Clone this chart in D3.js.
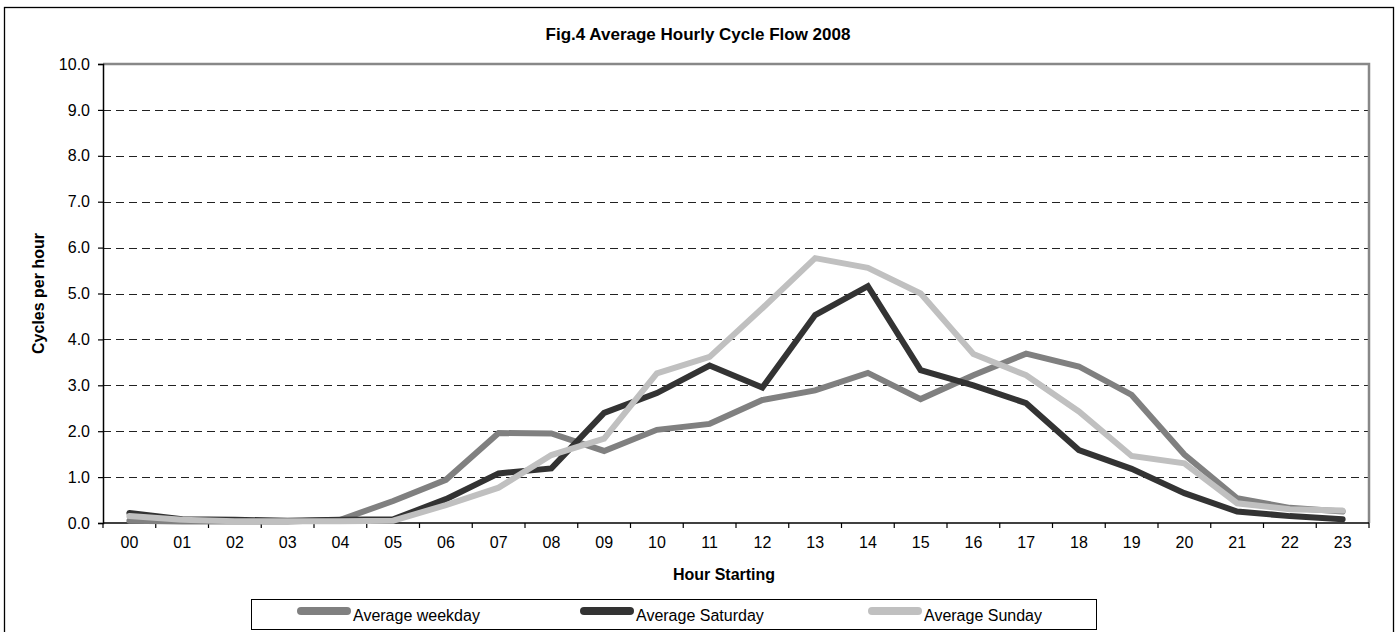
<!DOCTYPE html>
<html>
<head>
<meta charset="utf-8">
<script src="https://cdn.jsdelivr.net/npm/d3@7"></script>
<style>
  html, body { margin: 0; padding: 0; background: #fff; }
  svg { display: block; font-family: Arial, "Liberation Sans", sans-serif; }
</style>
</head>
<body>
<svg id="chart" width="1399" height="632"></svg>
<script>
// Hour-of-day categories
const hours = ["00","01","02","03","04","05","06","07","08","09","10","11",
               "12","13","14","15","16","17","18","19","20","21","22","23"];

// Average cycles per hour for each day type
const weekday  = [0.05,0.03,0.03,0.03,0.07,0.48,0.94,1.96,1.95,1.57,2.03,2.16,
                  2.68,2.89,3.27,2.70,3.22,3.69,3.41,2.79,1.49,0.54,0.33,0.25];
const saturday = [0.22,0.08,0.07,0.05,0.07,0.08,0.52,1.08,1.19,2.40,2.83,3.43,
                  2.95,4.53,5.16,3.33,3.00,2.61,1.59,1.18,0.65,0.25,0.15,0.08];
const sunday   = [0.15,0.07,0.04,0.04,0.04,0.05,0.39,0.77,1.48,1.84,3.26,3.62,
                  4.68,5.77,5.56,5.00,3.68,3.22,2.43,1.46,1.30,0.43,0.30,0.27];

const seriesNames = ["Average weekday","Average Saturday","Average Sunday"];
const yTicks = [0,1,2,3,4,5,6,7,8,9,10];

const series = [
  { name: seriesNames[0], values: weekday,  color: "#808080" },
  { name: seriesNames[1], values: saturday, color: "#333333" },
  { name: seriesNames[2], values: sunday,   color: "#c0c0c0" }
];

const svg = d3.select("#chart");
const plot = { left: 103, right: 1369, top: 64, bottom: 523 };

// Outer chart border
svg.append("rect")
  .attr("x", 4.5).attr("y", 7.5)
  .attr("width", 1389).attr("height", 640)
  .attr("fill", "#fff").attr("stroke", "#000").attr("stroke-width", 1.3);

const x = d3.scaleBand().domain(hours).range([plot.left, plot.right]).padding(0);
const y = d3.scaleLinear().domain([0, 10]).range([plot.bottom, plot.top]);

// Title
svg.append("text")
  .attr("x", 698).attr("y", 40)
  .attr("text-anchor", "middle")
  .attr("font-weight", "bold").attr("font-size", 17)
  .text("Fig.4 Average Hourly Cycle Flow 2008");

// Dashed horizontal gridlines
svg.append("g")
  .selectAll("line")
  .data(yTicks.filter(v => v > 0 && v < 10))
  .join("line")
  .attr("x1", plot.left).attr("x2", plot.right)
  .attr("y1", d => Math.round(y(d)) + 0.5).attr("y2", d => Math.round(y(d)) + 0.5)
  .attr("stroke", "#222").attr("stroke-width", 1)
  .attr("stroke-dasharray", "8,5");

// Plot area frame: grey top and right edges
svg.append("path")
  .attr("d", `M${plot.left},${plot.top} H${plot.right} V${plot.bottom}`)
  .attr("fill", "none").attr("stroke", "#888").attr("stroke-width", 2.5);

// Y axis
const yAxis = svg.append("g")
  .attr("transform", `translate(${plot.left},0)`)
  .call(d3.axisLeft(y).tickValues(yTicks).tickFormat(d3.format(".1f")).tickSize(5).tickPadding(8));
yAxis.select(".domain").attr("stroke", "#000").attr("stroke-width", 1.5);
yAxis.selectAll(".tick line").attr("stroke", "#000").attr("stroke-width", 1.2);
yAxis.selectAll(".tick text")
  .attr("font-size", 16).attr("fill", "#000")
  .attr("font-family", "Arial, 'Liberation Sans', sans-serif");

// X axis: labels centred in each band, ticks on band boundaries
const xAxis = svg.append("g")
  .attr("transform", `translate(0,${plot.bottom})`)
  .call(d3.axisBottom(x).tickSize(0).tickPadding(14));
xAxis.select(".domain").remove();
xAxis.selectAll(".tick text")
  .attr("font-size", 16).attr("fill", "#000")
  .attr("font-family", "Arial, 'Liberation Sans', sans-serif");

svg.append("line")
  .attr("x1", plot.left).attr("x2", plot.right)
  .attr("y1", plot.bottom).attr("y2", plot.bottom)
  .attr("stroke", "#000").attr("stroke-width", 1.5);

const boundaries = hours.map(h => x(h)).concat([x(hours[hours.length - 1]) + x.bandwidth()]);
svg.append("g")
  .selectAll("line")
  .data(boundaries)
  .join("line")
  .attr("x1", d => d).attr("x2", d => d)
  .attr("y1", plot.bottom).attr("y2", plot.bottom + 5)
  .attr("stroke", "#000").attr("stroke-width", 1.2);

// Axis titles
svg.append("text")
  .attr("x", 724).attr("y", 580)
  .attr("text-anchor", "middle")
  .attr("font-weight", "bold").attr("font-size", 16)
  .text("Hour Starting");

svg.append("text")
  .attr("transform", `translate(44,${(plot.top + plot.bottom) / 2}) rotate(-90)`)
  .attr("text-anchor", "middle")
  .attr("font-weight", "bold").attr("font-size", 16)
  .text("Cycles per hour");

// Series lines
const line = d3.line()
  .x((d, i) => x(hours[i]) + x.bandwidth() / 2)
  .y(d => y(d));

svg.append("g")
  .selectAll("path")
  .data(series)
  .join("path")
  .attr("d", d => line(d.values))
  .attr("fill", "none")
  .attr("stroke", d => d.color)
  .attr("stroke-width", 6)
  .attr("stroke-linejoin", "miter")
  .attr("stroke-linecap", "round");

// Legend
const legend = svg.append("g");
legend.append("rect")
  .attr("x", 251.5).attr("y", 599.5)
  .attr("width", 845).attr("height", 30)
  .attr("fill", "#fff").attr("stroke", "#000").attr("stroke-width", 1);

const legendX = [297, 580, 868];
const items = legend.selectAll("g.item")
  .data(series)
  .join("g")
  .attr("class", "item")
  .attr("transform", (d, i) => `translate(${legendX[i]},0)`);

items.append("line")
  .attr("x1", 4).attr("x2", 50)
  .attr("y1", 611).attr("y2", 611)
  .attr("stroke", d => d.color)
  .attr("stroke-width", 8)
  .attr("stroke-linecap", "round");

items.append("text")
  .attr("x", 56).attr("y", 621)
  .attr("font-size", 16)
  .text(d => d.name);
</script>
</body>
</html>
